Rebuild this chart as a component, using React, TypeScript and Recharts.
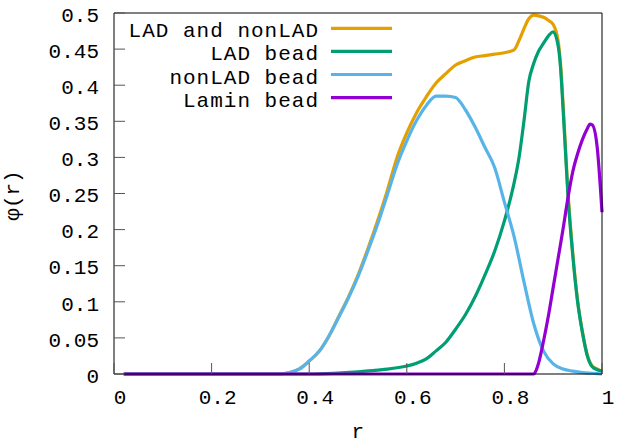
import React from 'react';
import { LineChart, Line, XAxis, YAxis } from 'recharts';

// values, phi(r) per bead type
const totalR = [0.02, 0.34, 0.36, 0.38, 0.4, 0.42, 0.44, 0.46, 0.48, 0.5, 0.52, 0.54, 0.56, 0.58, 0.6, 0.62, 0.64, 0.66, 0.68, 0.7, 0.72, 0.74, 0.76, 0.78, 0.8, 0.82, 0.83, 0.84, 0.85, 0.86, 0.87, 0.88, 0.89, 0.9, 0.91, 0.915, 0.92, 0.925, 0.93, 0.94, 0.95, 0.96, 0.97, 0.98, 0.99, 1.0];
const totalPhi = [0, 0, 0.002, 0.007, 0.018, 0.031, 0.052, 0.079, 0.106, 0.137, 0.173, 0.212, 0.254, 0.3, 0.334, 0.362, 0.384, 0.403, 0.416, 0.428, 0.434, 0.439, 0.441, 0.443, 0.445, 0.449, 0.462, 0.478, 0.492, 0.497, 0.496, 0.494, 0.49, 0.484, 0.462, 0.43, 0.377, 0.315, 0.255, 0.168, 0.102, 0.058, 0.026, 0.011, 0.007, 0.004];

const ladR = [0.02, 0.4, 0.45, 0.5, 0.55, 0.6, 0.62, 0.64, 0.66, 0.68, 0.7, 0.72, 0.74, 0.76, 0.78, 0.8, 0.82, 0.83, 0.84, 0.85, 0.86, 0.87, 0.88, 0.89, 0.9, 0.91, 0.915, 0.92, 0.925, 0.93, 0.94, 0.95, 0.96, 0.97, 0.98, 0.99, 1.0];
const ladPhi = [0, 0, 0.001, 0.003, 0.006, 0.011, 0.015, 0.021, 0.032, 0.044, 0.062, 0.082, 0.107, 0.137, 0.17, 0.212, 0.265, 0.3, 0.35, 0.405, 0.43, 0.447, 0.458, 0.468, 0.474, 0.455, 0.425, 0.37, 0.31, 0.25, 0.165, 0.1, 0.057, 0.025, 0.01, 0.006, 0.004];

const nonLadR = [0.02, 0.34, 0.36, 0.38, 0.4, 0.42, 0.44, 0.46, 0.48, 0.5, 0.52, 0.54, 0.56, 0.58, 0.6, 0.62, 0.64, 0.66, 0.68, 0.7, 0.72, 0.74, 0.76, 0.78, 0.8, 0.82, 0.84, 0.86, 0.88, 0.9, 0.92, 0.94, 0.96, 0.98, 1.0];
const nonLadPhi = [0, 0, 0.002, 0.007, 0.018, 0.031, 0.052, 0.078, 0.105, 0.135, 0.17, 0.207, 0.248, 0.29, 0.323, 0.351, 0.372, 0.385, 0.385, 0.383, 0.366, 0.342, 0.314, 0.286, 0.238, 0.19, 0.128, 0.07, 0.032, 0.014, 0.007, 0.004, 0.002, 0.001, 0];

const laminR = [0.02, 0.86, 0.865, 0.87, 0.88, 0.89, 0.9, 0.91, 0.92, 0.93, 0.94, 0.95, 0.96, 0.97, 0.975, 0.98, 0.99, 1.0];
const laminPhi = [0, 0, 0.005, 0.015, 0.045, 0.08, 0.12, 0.16, 0.2, 0.243, 0.28, 0.305, 0.325, 0.34, 0.346, 0.345, 0.315, 0.224];

const xTicks = [0, 0.2, 0.4, 0.6, 0.8, 1];
const yTicks = [0, 0.05, 0.1, 0.15, 0.2, 0.25, 0.3, 0.35, 0.4, 0.45, 0.5];

const series = [
  { name: 'LAD and nonLAD', color: '#E69F00', r: totalR, phi: totalPhi },
  { name: 'LAD bead', color: '#009E73', r: ladR, phi: ladPhi },
  { name: 'nonLAD bead', color: '#56B4E9', r: nonLadR, phi: nonLadPhi },
  { name: 'Lamin bead', color: '#9400D3', r: laminR, phi: laminPhi },
];

const FONT = '"Liberation Mono", "DejaVu Sans Mono", monospace';
const TICK_LEN = 11;
const TICK_COLOR = '#555';

const toPoints = (rs: number[], phis: number[]) => rs.map((r, i) => ({ r, phi: phis[i] }));

const LeftTick = (props: any) => {
  const { x, y, payload } = props;
  return (
    <g>
      <line x1={x} x2={x + TICK_LEN} y1={y} y2={y} stroke={TICK_COLOR} />
      <text x={x - 15} y={y + 8.7} textAnchor="end" fontFamily={FONT} fontSize={21} fill="#000">
        {String(payload.value)}
      </text>
    </g>
  );
};

const BottomTick = (props: any) => {
  const { x, y, payload } = props;
  return (
    <g>
      <line x1={x} x2={x} y1={y} y2={y - TICK_LEN} stroke={TICK_COLOR} />
      <text x={x + 6} y={y + 30} textAnchor="middle" fontFamily={FONT} fontSize={21} fill="#000">
        {String(payload.value)}
      </text>
    </g>
  );
};

const RightTick = (props: any) => {
  const { x, y } = props;
  return <line x1={x} x2={x - TICK_LEN} y1={y} y2={y} stroke={TICK_COLOR} />;
};

const TopTick = (props: any) => {
  const { x, y } = props;
  return <line x1={x} x2={x} y1={y} y2={y + TICK_LEN} stroke={TICK_COLOR} />;
};

const App = () => {
  return (
    <div style={{ position: 'absolute', left: 0, top: 0, width: 617, height: 444, background: '#fff' }}>
      <LineChart width={617} height={444} margin={{ top: 12, right: 14, left: 0, bottom: 0 }}>
        <XAxis
          xAxisId={0}
          dataKey="r"
          type="number"
          domain={[0, 1]}
          ticks={xTicks}
          interval={0}
          height={70}
          tickSize={0}
          tickMargin={0}
          tickLine={false}
          tick={<BottomTick />}
          axisLine={{ stroke: '#000' }}
        />
        <XAxis
          xAxisId="top"
          orientation="top"
          dataKey="r"
          type="number"
          domain={[0, 1]}
          ticks={xTicks}
          interval={0}
          height={1}
          tickSize={0}
          tickMargin={0}
          tickLine={false}
          tick={<TopTick />}
          axisLine={{ stroke: '#000' }}
        />
        <YAxis
          yAxisId={0}
          type="number"
          domain={[0, 0.5]}
          ticks={yTicks}
          interval={0}
          width={114}
          tickSize={0}
          tickMargin={0}
          tickLine={false}
          tick={<LeftTick />}
          axisLine={{ stroke: '#000' }}
        />
        <YAxis
          yAxisId="right"
          orientation="right"
          type="number"
          domain={[0, 0.5]}
          ticks={yTicks}
          interval={0}
          width={1}
          tickSize={0}
          tickMargin={0}
          tickLine={false}
          tick={<RightTick />}
          axisLine={{ stroke: '#000' }}
        />
        {series.map((s) => (
          <Line
            key={s.name}
            name={s.name}
            data={toPoints(s.r, s.phi)}
            dataKey="phi"
            type="monotone"
            stroke={s.color}
            strokeWidth={3.2}
            dot={false}
            activeDot={false}
            isAnimationActive={false}
          />
        ))}
      </LineChart>
      <svg
        width={617}
        height={444}
        style={{ position: 'absolute', left: 0, top: 0, pointerEvents: 'none' }}
      >
        {series.map((s, i) => (
          <g key={s.name}>
            <text
              x={319}
              y={37.3 + i * 23.1}
              textAnchor="end"
              fontFamily={FONT}
              fontSize={21}
              letterSpacing={1}
              fill="#000"
            >
              {s.name}
            </text>
            <line x1={331} x2={392} y1={28.3 + i * 23.1} y2={28.3 + i * 23.1} stroke={s.color} strokeWidth={3.2} />
          </g>
        ))}
        <text
          x={19.3}
          y={195.5}
          textAnchor="middle"
          fontFamily={FONT}
          fontSize={21}
          fill="#000"
          transform="rotate(-90 19.3 195.5)"
        >
          φ(r)
        </text>
        <text x={357.7} y={437.5} textAnchor="middle" fontFamily={FONT} fontSize={21} fill="#000">
          r
        </text>
      </svg>
    </div>
  );
};

export default App;
